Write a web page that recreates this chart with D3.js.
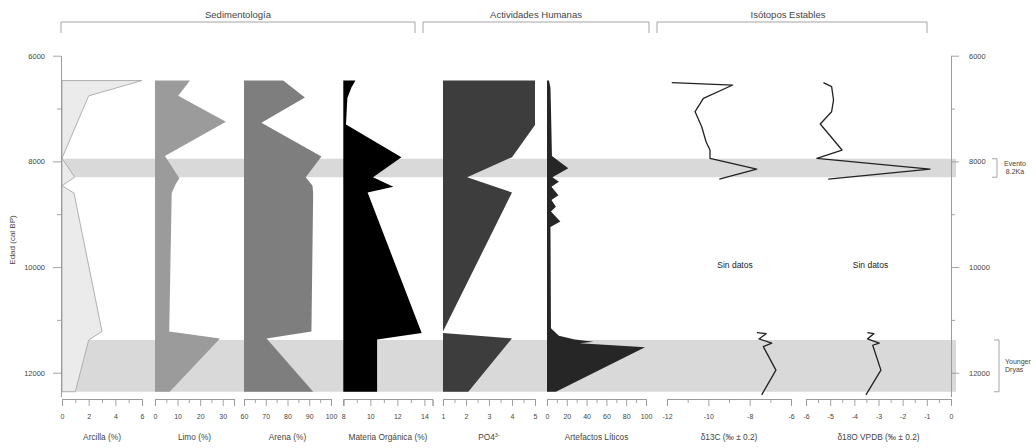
<!DOCTYPE html>
<html>
<head>
<meta charset="utf-8">
<script src="https://cdn.jsdelivr.net/npm/d3@7"></script>
<style>
  html, body { margin: 0; padding: 0; background: #fff; }
  svg { display: block; font-family: "Liberation Sans", Arial, sans-serif; }
</style>
</head>
<body>
<svg id="chart" width="1036" height="448"></svg>
<script>
// ---- Data (age in cal BP) ----
const ageTicksMajor = [6000, 8000, 10000, 12000];
const ageTicksMinor = [7000, 9000, 11000];

const arcillaAges = [6470, 6760, 7940, 8300, 8460, 8600, 11220, 11380, 12360];
const arcillaVals = [6, 2, 0, 0.95, 0, 0.9, 3, 2, 1];

const limoAges = [6470, 6760, 7250, 7900, 8320, 8430, 8600, 11220, 11350, 12360];
const limoVals = [15.5, 10.3, 31.4, 4.4, 10.8, 9.2, 7.4, 6.3, 28.8, 6.5];

const arenaAges = [6470, 6790, 7270, 7910, 8300, 8460, 8600, 11220, 11350, 12360];
const arenaVals = [78, 88, 68, 95.6, 88.4, 91.5, 91.8, 91, 70.4, 91.8];

const moAges = [6470, 6600, 6800, 7300, 7920, 8300, 8480, 8590, 11250, 11370, 12360];
const moVals = [8.9, 8.6, 8.3, 8.2, 12.3, 10.2, 11.7, 9.8, 13.8, 10.5, 10.5];

const po4Ages = [6470, 7310, 7920, 8300, 8590, 11220, 11250, 11350, 12360];
const po4Vals = [5, 5, 4.0, 2.05, 4.0, 1.0, 1.0, 4.0, 2.1];

const liticosAges = [6470, 6600, 7000, 7900, 8130, 8300, 8385, 8480, 8640, 8730, 8860, 8950, 9140, 9240, 11160, 11300, 11370, 11413, 11440, 11520, 12360];
const liticosVals = [2, 3.5, 4, 5, 21.5, 5.5, 12, 4.5, 11.5, 4.5, 9, 4, 13.5, 3.5, 4, 12, 28, 47, 33, 99, 9];

// null marks the interval without measurements
const d13cAges = [6510, 6555, 6807, 7060, 7344, 7628, 7785, 7942, 8145, 8334, 9800, 11240, 11260, 11360, 11440, 11505, 11950, 12420];
const d13cVals = [-11.77, -8.82, -10.24, -10.64, -10.32, -10.11, -9.92, -9.92, -7.66, -9.47, null, -7.65, -7.2, -7.55, -6.93, -7.34, -6.73, -7.42];

const d18oAges = [6511, 6586, 6838, 7060, 7293, 7785, 7942, 8145, 8334, 9800, 11240, 11260, 11360, 11440, 11480, 11950, 12420];
const d18oVals = [-5.28, -4.94, -4.86, -4.94, -5.41, -4.51, -5.55, -0.87, -5.08, null, -3.46, -3.19, -3.46, -2.97, -3.24, -2.9, -3.52];

const eventNames = [["Evento", "8.2Ka"], ["Younger", "Dryas"]];
const eventStart = [7950, 11380];
const eventEnd = [8300, 12360];

const groupNames = ["Sedimentología", "Actividades Humanas", "Isótopos Estables"];

// ---- Layout ----
const svg = d3.select("#chart");
const y = d3.scaleLinear().domain([6000, 12450]).range([55.7, 396.5]);
const axisY = 399;
const leftX = 61, rightX = 951;
const gridColor = "#9a9a9a";
const textColor = "#444";

const panels = [
  { ages: arcillaAges, vals: arcillaVals, domain: [0, 6], range: [62, 142], step: 1, major: 2, kind: "area", fill: "#ebebeb", stroke: "#a8a8a8", title: "Arcilla (%)" },
  { ages: limoAges, vals: limoVals, domain: [0, 35], range: [155, 234], step: 5, major: 10, kind: "area", fill: "#9b9b9b", title: "Limo (%)" },
  { ages: arenaAges, vals: arenaVals, domain: [60, 100], range: [244, 331], step: 5, major: 10, kind: "area", fill: "#7e7e7e", title: "Arena (%)" },
  { ages: moAges, vals: moVals, domain: [8, 14.6], range: [343.3, 432.5], step: 1, major: 2, kind: "area", fill: "#000", title: "Materia Orgánica (%)" },
  { ages: po4Ages, vals: po4Vals, domain: [1, 5], range: [443, 535], step: 0.5, major: 1, kind: "area", fill: "#3d3d3d", title: "PO4", sup: "3-" },
  { ages: liticosAges, vals: liticosVals, domain: [0, 100], range: [547, 646], step: 10, major: 20, kind: "area", fill: "#262626", title: "Artefactos Líticos" },
  { ages: d13cAges, vals: d13cVals, domain: [-12, -6], range: [667, 791], step: 1, major: 2, kind: "line", title: "δ13C (‰ ± 0.2)" },
  { ages: d18oAges, vals: d18oVals, domain: [-6, 0], range: [806, 951], step: 0.5, major: 1, kind: "line", title: "δ18O VPDB (‰ ± 0.2)" }
];

// ---- Event bands ----
svg.append("g").selectAll("rect")
  .data(eventStart.map((s, i) => ({ s, e: eventEnd[i] })))
  .join("rect")
  .attr("x", 62).attr("width", 956 - 62)
  .attr("y", d => y(d.s)).attr("height", d => y(d.e) - y(d.s))
  .attr("fill", "#d9d9d9");

// ---- Profiles ----
panels.forEach(p => {
  const x = d3.scaleLinear().domain(p.domain).range(p.range);
  const pts = p.ages.map((a, i) => ({ age: a, v: p.vals[i] }));
  const g = svg.append("g");
  if (p.kind === "area") {
    const area = d3.area()
      .y(d => y(d.age))
      .x0(x(p.domain[0]))
      .x1(d => x(d.v));
    g.append("path").datum(pts)
      .attr("d", area)
      .attr("fill", p.fill)
      .attr("stroke", p.stroke || "none")
      .attr("stroke-width", p.stroke ? 0.9 : 0);
  } else {
    const line = d3.line()
      .defined(d => d.v !== null)
      .x(d => x(d.v))
      .y(d => y(d.age));
    g.append("path").datum(pts)
      .attr("d", line)
      .attr("fill", "none")
      .attr("stroke", "#222")
      .attr("stroke-width", 1.3)
      .attr("stroke-linejoin", "round");
  }

  // bottom axis: minor ticks, then labelled major ticks
  const all = d3.range(p.domain[0], p.domain[1] + 1e-9, p.step);
  const majors = all.filter(v => Math.abs(v / p.major - Math.round(v / p.major)) < 1e-9);
  const minors = all.filter(v => !majors.includes(v));
  const ax = svg.append("g").attr("transform", `translate(0,${axisY})`);
  ax.append("g").call(d3.axisBottom(x).tickValues(minors).tickSize(4).tickSizeOuter(7).tickFormat(""));
  ax.append("g").call(d3.axisBottom(x).tickValues(majors).tickSize(7).tickSizeOuter(7).tickPadding(8).tickFormat(d => String(d)));
  ax.selectAll("path, line").attr("stroke", gridColor).attr("stroke-width", 0.9);
  ax.selectAll("text").attr("fill", textColor).attr("font-size", 7).attr("font-family", "Liberation Sans, Arial, sans-serif");

  const t = svg.append("text")
    .attr("x", (p.range[0] + p.range[1]) / 2).attr("y", 440)
    .attr("text-anchor", "middle").attr("font-size", 8.3).attr("fill", textColor)
    .text(p.title);
  if (p.sup) t.append("tspan").attr("dy", -3).attr("font-size", 5.5).text(p.sup);
});

// ---- Age axes ----
function ageAxis(gen, xPos, side) {
  const g = svg.append("g").attr("transform", `translate(${xPos},0)`);
  g.append("g").call(gen(y).tickValues(ageTicksMinor).tickSize(4).tickSizeOuter(0).tickFormat(""));
  g.append("g").call(gen(y).tickValues(ageTicksMajor).tickSize(8).tickSizeOuter(0).tickPadding(side === "left" ? 8 : 10).tickFormat(d => String(d)));
  g.selectAll("path, line").attr("stroke", gridColor).attr("stroke-width", 0.9);
  g.selectAll("text").attr("fill", textColor).attr("font-size", 7.5).attr("font-family", "Liberation Sans, Arial, sans-serif");
}
ageAxis(d3.axisLeft, leftX, "left");
ageAxis(d3.axisRight, rightX, "right");

svg.append("text")
  .attr("transform", "translate(15,240) rotate(-90)")
  .attr("text-anchor", "middle").attr("font-size", 8).attr("fill", textColor)
  .text("Edad (cal BP)");

// ---- "Sin datos" labels in the isotope gap ----
[panels[6], panels[7]].forEach(p => {
  svg.append("text")
    .attr("x", (p.range[0] + p.range[1]) / 2 + (p === panels[6] ? 6 : -8)).attr("y", 268)
    .attr("text-anchor", "middle").attr("font-size", 8.5).attr("fill", "#222")
    .text("Sin datos");
});

// ---- Event brackets on the right ----
const bracketX = [997, 999];
eventStart.forEach((s, i) => {
  const y0 = y(s), y1 = y(eventEnd[i]);
  const bx = bracketX[i];
  svg.append("path")
    .attr("d", `M${bx - 5},${y0}H${bx}V${y1}H${bx - 5}`)
    .attr("fill", "none").attr("stroke", gridColor).attr("stroke-width", 0.9);
  const ty = i === 0 ? (y0 + y1) / 2 - 4 : (y0 + y1) / 2 - 4;
  const tx = i === 0 ? 1015 : 1005;
  svg.append("text")
    .attr("x", tx).attr("y", ty + 2)
    .attr("text-anchor", i === 0 ? "middle" : "start")
    .attr("font-size", 7).attr("fill", textColor)
    .selectAll("tspan").data(eventNames[i]).join("tspan")
    .attr("x", tx).attr("dy", (d, j) => j === 0 ? 0 : 8.5)
    .text(d => d);
});

// ---- Group brackets on top ----
const groupSpan = [[61, 415], [423, 649], [657, 927]];
groupNames.forEach((name, i) => {
  const [a, b] = groupSpan[i];
  svg.append("path")
    .attr("d", `M${a},33V22H${b}V33`)
    .attr("fill", "none").attr("stroke", gridColor).attr("stroke-width", 0.9);
  svg.append("text")
    .attr("x", (a + b) / 2 + (i === 2 ? -4 : 0)).attr("y", 18)
    .attr("text-anchor", "middle").attr("font-size", 9.5).attr("fill", textColor)
    .text(name);
});
</script>
</body>
</html>
